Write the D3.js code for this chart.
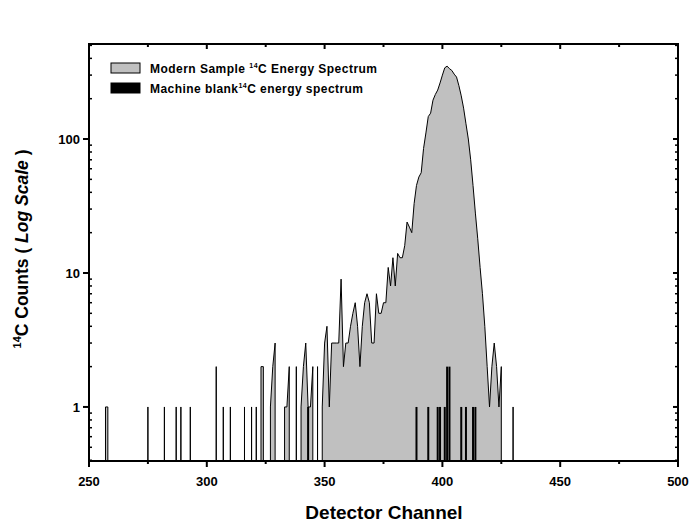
<!DOCTYPE html>
<html>
<head>
<meta charset="utf-8">
<script src="https://cdn.jsdelivr.net/npm/d3@7"></script>
<style>
  html, body { margin: 0; padding: 0; background: #fff; }
  svg { display: block; font-family: "Liberation Sans", Arial, sans-serif; }
</style>
</head>
<body>
<svg id="chart" width="694" height="525"></svg>
<script>
// ---------------- data ----------------
const modernStart = 256;
const modernCounts = [
  // 256..275
  0,1,1,0,0,0,0,0,0,0, 0,0,0,0,0,0,0,0,0,1,
  // 276..295
  0,0,0,0,0,0,1,0,0,0, 0,1,0,1,0,0,0,1,0,0,
  // 296..315
  0,0,0,0,0,0,0,0,2,0, 0,1,0,0,1,0,0,0,0,0,
  // 316..335
  1,0,0,1,0,1,0,2,2,0, 0,1,2,3,0,0,0,1,1,2,
  // 336..355
  0,0,2,0,1,2,3,1,1,2, 0,2,0,1,3,4,1,3,3,3,
  // 356..375
  3,9,2,3,3,4,5,6,4,2, 4,6,7,6,3,3,7,5,5,6,
  // 376..395
  6,11,8,13,8,14,13,13,16,24, 22,20,33,45,52,56,85,111,147,156,
  // 396..415
  195,215,232,262,300,340,350,335,325,305, 290,250,210,170,130,100,70,45,28,18,
  // 416..431
  11,7,4,2,1,2,3,2,1,2, 0,0,0,0,1,0
];
const blankChannels = [343, 389, 394, 398, 399, 401, 402, 403, 408, 410, 413, 414];
const blankCounts   = [1,   1,   1,   1,   1,   1,   2,   2,   1,   1,   1,   1];

const xTicks = [250, 300, 350, 400, 450, 500];
const xMinorTicks = [275, 325, 375, 425, 475];
const yTicks = [1, 10, 100];
const yTickLabels = ["1", "10", "100"];
const yMinorTicks = [0.4,0.5,0.6,0.7,0.8,0.9,2,3,4,5,6,7,8,9,20,30,40,50,60,70,80,90,200,300,400,500];

const legendLabels = [
  ["Modern Sample ", "14", "C Energy Spectrum"],
  ["Machine blank", "14", "C energy spectrum"]
];

// ---------------- layout ----------------
const L = 89, R = 678, T = 44, B = 461;
const svg = d3.select("#chart");
const x = d3.scaleLinear().domain([250, 500]).range([L, R]);
const y = d3.scaleLog().domain([0.395, 512]).range([B, T]);

svg.append("defs").append("clipPath").attr("id", "clip")
  .append("rect").attr("x", L).attr("y", T).attr("width", R - L).attr("height", B - T);

// Modern spectrum points: zero runs lie on the bottom, non-zero runs rise vertically
const pts = [];
modernCounts.forEach((v, i) => {
  const c = modernStart + i;
  if (v > 0) {
    if (i === 0 || modernCounts[i - 1] === 0) pts.push([x(c), B]);
    pts.push([x(c), y(v)]);
    if (i === modernCounts.length - 1 || modernCounts[i + 1] === 0) pts.push([x(c), B]);
  } else {
    pts.push([x(c), B]);
  }
});

const g = svg.append("g").attr("clip-path", "url(#clip)");
g.append("path")
  .attr("d", d3.area().x(d => d[0]).y0(B).y1(d => d[1])(pts))
  .attr("fill", "#c0c0c0");
g.append("path")
  .attr("d", d3.line().x(d => d[0]).y(d => d[1])(pts))
  .attr("fill", "none").attr("stroke", "#000").attr("stroke-width", 1);

// Machine blank bars
g.selectAll("line.blank").data(blankChannels).enter().append("line")
  .attr("class", "blank")
  .attr("x1", d => x(d)).attr("x2", d => x(d))
  .attr("y1", B).attr("y2", (d, i) => y(blankCounts[i]))
  .attr("stroke", "#000").attr("stroke-width", 2);

// ---------------- axes ----------------
const ax = svg.append("g").attr("stroke", "#000");
ax.append("rect").attr("x", L).attr("y", T).attr("width", R - L).attr("height", B - T)
  .attr("fill", "none").attr("stroke-width", 2);

xTicks.forEach(t => {
  ax.append("line").attr("x1", x(t)).attr("x2", x(t)).attr("y1", B).attr("y2", B + 6).attr("stroke-width", 2);
  ax.append("line").attr("x1", x(t)).attr("x2", x(t)).attr("y1", T).attr("y2", T + 5).attr("stroke-width", 2);
});
xMinorTicks.forEach(t => {
  ax.append("line").attr("x1", x(t)).attr("x2", x(t)).attr("y1", B).attr("y2", B + 3).attr("stroke-width", 2);
  ax.append("line").attr("x1", x(t)).attr("x2", x(t)).attr("y1", T).attr("y2", T + 3).attr("stroke-width", 2);
});
yTicks.forEach(t => {
  ax.append("line").attr("x1", L - 6).attr("x2", L).attr("y1", y(t)).attr("y2", y(t)).attr("stroke-width", 2);
  ax.append("line").attr("x1", R - 5).attr("x2", R).attr("y1", y(t)).attr("y2", y(t)).attr("stroke-width", 2);
});
yMinorTicks.forEach(t => {
  ax.append("line").attr("x1", L).attr("x2", L + 3).attr("y1", y(t)).attr("y2", y(t)).attr("stroke-width", 1.5);
  ax.append("line").attr("x1", R - 3).attr("x2", R).attr("y1", y(t)).attr("y2", y(t)).attr("stroke-width", 1.5);
});

svg.selectAll("text.xt").data(xTicks).enter().append("text")
  .attr("x", d => x(d)).attr("y", B + 25)
  .attr("text-anchor", "middle").attr("font-size", 13).attr("font-weight", "bold")
  .text(d => d);
svg.selectAll("text.yt").data(yTicks).enter().append("text")
  .attr("x", L - 9).attr("y", d => y(d) + 5)
  .attr("text-anchor", "end").attr("font-size", 13).attr("font-weight", "bold")
  .text((d, i) => yTickLabels[i]);

// axis titles
svg.append("text").attr("x", 384).attr("y", 519)
  .attr("text-anchor", "middle").attr("font-size", 19).attr("font-weight", "bold")
  .text("Detector Channel");

const yt = svg.append("text")
  .attr("transform", `translate(28, 249) rotate(-90)`)
  .attr("text-anchor", "middle").attr("font-size", 17.5).attr("font-weight", "bold");
yt.append("tspan").attr("font-size", 11).attr("dy", -7).text("14");
yt.append("tspan").attr("dy", 7).text("C Counts ( ");
yt.append("tspan").attr("font-style", "italic").text("Log Scale");
yt.append("tspan").text(" )");

// legend
const legendFills = ["#c0c0c0", "#000"];
const legendWidths = [227, 213];
legendLabels.forEach((lab, i) => {
  const ly = 63 + i * 20;
  svg.append("rect").attr("x", 111).attr("y", ly).attr("width", 29).attr("height", 10)
    .attr("fill", legendFills[i]).attr("stroke", "#000").attr("stroke-width", 1);
  const t = svg.append("text").attr("x", 150).attr("y", ly + 10)
    .attr("font-size", 12).attr("font-weight", "bold")
    .attr("textLength", legendWidths[i]).attr("lengthAdjust", "spacing");
  t.append("tspan").text(lab[0]);
  t.append("tspan").attr("font-size", 7).attr("dy", -5).text(lab[1]);
  t.append("tspan").attr("dy", 5).text(lab[2]);
});
</script>
</body>
</html>
